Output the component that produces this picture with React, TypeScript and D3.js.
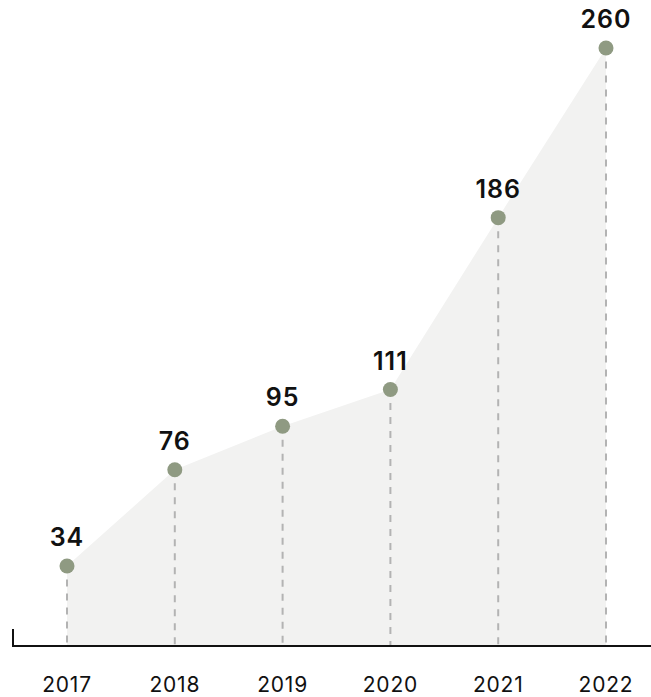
import React from "react";
import * as d3 from "d3";

// Yearly totals
const years = ["2017", "2018", "2019", "2020", "2021", "2022"];
const values = [34, 76, 95, 111, 186, 260];

const W = 651;
const H = 697;
const AXIS_Y = 646;

export default function App() {
  const x = d3.scalePoint<string>().domain(years).range([67, 606]);
  const y = d3.scaleLinear().domain([0, 260]).range([644, 48]);

  const data = years.map((yr, i) => ({ yr, v: values[i] }));

  const area = d3
    .area<{ yr: string; v: number }>()
    .x((d) => x(d.yr) as number)
    .y0(AXIS_Y)
    .y1((d) => y(d.v));

  const fontFamily = "Inter, 'Helvetica Neue', Arial, sans-serif";
  const r = 7.5;

  return (
    <svg
      width={W}
      height={H}
      style={{ position: "absolute", left: 0, top: 0, background: "#fff" }}
    >
      <path d={area(data) || ""} fill="#f2f2f1" />
      {data.map((d) => (
        <line
          key={"drop" + d.yr}
          x1={x(d.yr)}
          x2={x(d.yr)}
          y1={y(d.v) + r + 6}
          y2={AXIS_Y}
          stroke="#b3b3b3"
          strokeWidth={2}
          strokeDasharray="7 7"
        />
      ))}
      <line x1={13} x2={W} y1={AXIS_Y} y2={AXIS_Y} stroke="#111" strokeWidth={2} />
      <line x1={13} x2={13} y1={629} y2={AXIS_Y + 1} stroke="#111" strokeWidth={2} />
      {data.map((d) => (
        <circle key={"dot" + d.yr} cx={x(d.yr)} cy={y(d.v)} r={r} fill="#8f9a82" />
      ))}
      {data.map((d) => (
        <text
          key={"val" + d.yr}
          x={x(d.yr)}
          y={y(d.v) - 20}
          textAnchor="middle"
          fontFamily={fontFamily}
          fontWeight={600}
          fontSize={25}
          letterSpacing={1}
          fill="#111"
        >
          {d.v}
        </text>
      ))}
      {data.map((d) => (
        <text
          key={"yr" + d.yr}
          x={x(d.yr)}
          y={692}
          textAnchor="middle"
          fontFamily={fontFamily}
          fontSize={21}
          letterSpacing={0.8}
          fill="#111"
        >
          {d.yr}
        </text>
      ))}
    </svg>
  );
}
